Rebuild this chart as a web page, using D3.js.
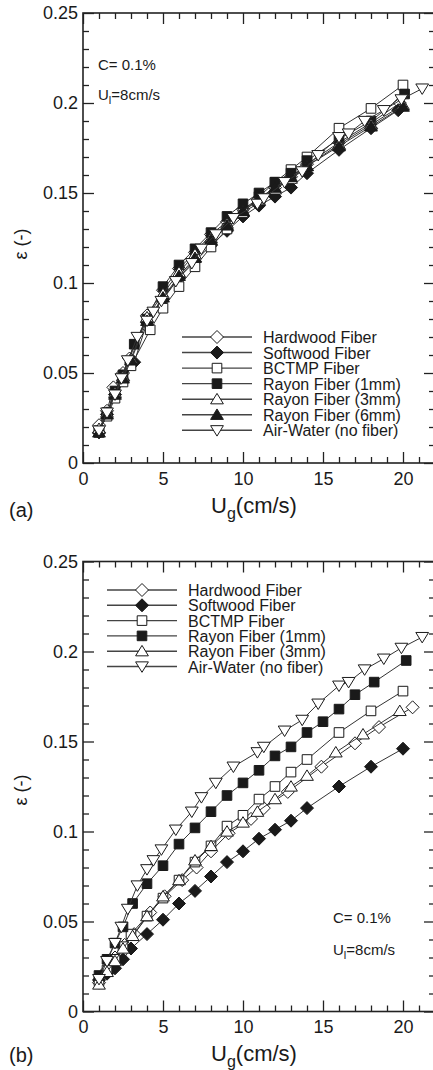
<!DOCTYPE html>
<html>
<head>
<meta charset="utf-8">
<script src="https://cdn.jsdelivr.net/npm/d3@7"></script>
<style>
  html, body { margin: 0; padding: 0; background: #fff; }
  svg { display: block; font-family: "Liberation Sans", Arial, Helvetica, sans-serif; }
</style>
</head>
<body>
<svg id="fig" width="433" height="1070"></svg>
<script>
// Gas holdup ε versus superficial gas velocity Ug, fiber suspensions at C = 0.1%, Ul = 8 cm/s

const seriesLabels = [
  "Hardwood Fiber", "Softwood Fiber", "BCTMP Fiber",
  "Rayon Fiber (1mm)", "Rayon Fiber (3mm)", "Rayon Fiber (6mm)", "Air-Water (no fiber)"
];
const seriesMarkers = ["diamondOpen", "diamondFilled", "squareOpen", "squareFilled", "triUpOpen", "triUpFilled", "triDownOpen"];

const xTicks = [0, 5, 10, 15, 20];
const yTicks = [0, 0.05, 0.1, 0.15, 0.2, 0.25];
const yTickLabels = ["0", "0.05", "0.1", "0.15", "0.2", "0.25"];

// Air-water reference run (same in both panels), [Ug, ε]
const airWater = [
  [1.0, 0.018], [1.5, 0.028], [2.0, 0.038], [2.4, 0.047], [2.8, 0.057], [3.4, 0.070],
  [4.0, 0.079], [4.4, 0.084], [4.9, 0.090], [5.8, 0.101], [6.8, 0.111], [7.4, 0.119],
  [8.3, 0.127], [9.4, 0.136], [10.9, 0.144], [11.3, 0.147], [12.6, 0.156], [13.7, 0.162],
  [14.7, 0.171], [16.0, 0.181], [16.6, 0.183], [17.6, 0.190], [18.8, 0.196], [19.9, 0.202], [21.2, 0.208]
];

// Panel (a)
const hardwoodA = [
  [1, 0.021], [1.5, 0.029], [1.9, 0.042], [2.5, 0.050], [2.9, 0.058], [4, 0.082], [5, 0.096],
  [6, 0.108], [7, 0.117], [8, 0.127], [9, 0.134], [10, 0.141], [11, 0.147], [12, 0.153],
  [13, 0.159], [14, 0.166], [16, 0.178], [18, 0.189], [19.8, 0.200]
];
const softwoodA = [
  [1, 0.017], [1.5, 0.027], [2, 0.038], [2.5, 0.046], [3.2, 0.056], [4, 0.078], [5, 0.091],
  [6, 0.103], [7, 0.112], [8, 0.121], [9, 0.129], [10, 0.137], [11, 0.143], [12, 0.148],
  [13, 0.153], [14, 0.161], [16, 0.174], [18, 0.186], [19.7, 0.196]
];
const bctmpA = [
  [1, 0.018], [1.5, 0.026], [2, 0.036], [2.5, 0.045], [3, 0.054], [4.2, 0.074], [5, 0.086],
  [6, 0.098], [7, 0.109], [8, 0.120], [9, 0.130], [10, 0.139], [11, 0.148], [12, 0.156],
  [13, 0.163], [14, 0.170], [16, 0.186], [18, 0.197], [20, 0.210]
];
const rayon1A = [
  [1, 0.017], [1.5, 0.028], [2, 0.040], [2.5, 0.049], [3.2, 0.066], [4, 0.080], [5, 0.098],
  [6, 0.110], [7, 0.119], [8, 0.128], [9, 0.137], [10, 0.144], [11, 0.150], [12, 0.156],
  [13, 0.161], [14, 0.168], [16, 0.180], [18, 0.190], [20.1, 0.205]
];
const rayon3A = [
  [1, 0.019], [1.5, 0.028], [2, 0.039], [2.5, 0.048], [3, 0.058], [4, 0.081], [5, 0.094],
  [6, 0.106], [7, 0.116], [8, 0.125], [9, 0.133], [10, 0.140], [11, 0.146], [12, 0.152],
  [13, 0.158], [14, 0.165], [16, 0.177], [18, 0.188], [20, 0.199]
];
const rayon6A = [
  [1, 0.017], [1.5, 0.027], [2, 0.038], [2.5, 0.047], [3, 0.057], [4, 0.079], [5, 0.092],
  [6, 0.104], [7, 0.114], [8, 0.124], [9, 0.132], [10, 0.140], [11, 0.147], [12, 0.153],
  [13, 0.159], [14, 0.165], [16, 0.176], [18, 0.187], [20, 0.198]
];

// Panel (b)
const hardwoodB = [
  [1, 0.016], [1.5, 0.023], [2, 0.030], [2.6, 0.037], [3.2, 0.043], [4.2, 0.055], [5.1, 0.064],
  [6.2, 0.073], [7.1, 0.080], [8, 0.089], [9.1, 0.099], [10.5, 0.107], [11.3, 0.113],
  [12.8, 0.122], [14.9, 0.136], [17, 0.149], [18.5, 0.158], [20.6, 0.169]
];
const softwoodB = [
  [1, 0.0175], [1.5, 0.021], [2, 0.024], [2.5, 0.029], [3, 0.035], [4, 0.043], [5, 0.051],
  [6, 0.060], [7, 0.067], [8, 0.075], [9, 0.083], [10, 0.089], [11, 0.096], [12, 0.101],
  [13, 0.106], [14, 0.113], [16, 0.125], [18, 0.136], [20, 0.146]
];
const bctmpB = [
  [1, 0.017], [1.5, 0.023], [2, 0.029], [2.5, 0.036], [3, 0.043], [4, 0.053], [5, 0.063],
  [6, 0.073], [7, 0.083], [8, 0.092], [9, 0.103], [10, 0.109], [11, 0.118], [12, 0.125],
  [13, 0.133], [14, 0.140], [16, 0.155], [18, 0.167], [20, 0.178]
];
const rayon1B = [
  [1, 0.020], [1.5, 0.029], [2, 0.038], [2.5, 0.047], [3.1, 0.060], [4, 0.071], [5, 0.081],
  [6, 0.093], [7, 0.102], [8, 0.111], [9, 0.120], [10, 0.127], [11, 0.134], [12, 0.142],
  [13, 0.147], [14, 0.155], [15, 0.161], [16, 0.168], [17, 0.176], [18.2, 0.183], [20.2, 0.195]
];
const rayon3B = [
  [1, 0.015], [1.5, 0.022], [2, 0.028], [2.5, 0.035], [3.1, 0.042], [4, 0.053], [5, 0.064],
  [6, 0.073], [7, 0.084], [8, 0.092], [9, 0.100], [10, 0.105], [10.9, 0.111], [12, 0.118],
  [13, 0.125], [14, 0.131], [15.8, 0.144], [17.5, 0.154], [19.8, 0.167]
];

const panels = [
  {
    tag: "(a)", top: 13, bottom: 463,
    series: [hardwoodA, softwoodA, bctmpA, rayon1A, rayon3A, rayon6A, airWater],
    which: [0, 1, 2, 3, 4, 5, 6],
    legend: { x0: 182, x1: 252, xm: 217, xt: 263, y0: 337, dy: 15.55 },
    note: { x: 98, y1: 70, y2: 100 },
    xTitleY: 513, tagY: 517, yTitleY: 244
  },
  {
    tag: "(b)", top: 561.5, bottom: 1011.5,
    series: [hardwoodB, softwoodB, bctmpB, rayon1B, rayon3B, airWater],
    which: [0, 1, 2, 3, 4, 6],
    legend: { x0: 107, x1: 177, xm: 142, xt: 188, y0: 590, dy: 15.3 },
    note: { x: 333, y1: 923, y2: 955 },
    xTitleY: 1061, tagY: 1062, yTitleY: 790
  }
];

const plotLeft = 83, plotRight = 435;
const ink = "#1a1a1a";

// Marker shapes; the size argument is the half-width in pixels
const shapes = {
  diamond: { draw(c, r) { c.moveTo(0, -r); c.lineTo(r, 0); c.lineTo(0, r); c.lineTo(-r, 0); c.closePath(); } },
  square:  { draw(c, r) { c.rect(-r, -r, 2 * r, 2 * r); } },
  triUp:   { draw(c, r) { c.moveTo(0, -r); c.lineTo(r * 1.1, r * 0.8); c.lineTo(-r * 1.1, r * 0.8); c.closePath(); } },
  triDown: { draw(c, r) { c.moveTo(0, r); c.lineTo(r * 1.1, -r * 0.8); c.lineTo(-r * 1.1, -r * 0.8); c.closePath(); } }
};
const markerStyle = {
  diamondOpen:   { shape: "diamond", r: 6.5, fill: "#fff" },
  diamondFilled: { shape: "diamond", r: 6.5, fill: ink },
  squareOpen:    { shape: "square",  r: 4.8, fill: "#fff" },
  squareFilled:  { shape: "square",  r: 4.8, fill: ink },
  triUpOpen:     { shape: "triUp",   r: 5.8, fill: "#fff" },
  triUpFilled:   { shape: "triUp",   r: 5.8, fill: ink },
  triDownOpen:   { shape: "triDown", r: 5.8, fill: "#fff" }
};
function markerPath(key) {
  const m = markerStyle[key];
  return d3.symbol().type(shapes[m.shape]).size(m.r)();
}

const svg = d3.select("#fig");

panels.forEach(p => {
  const x = d3.scaleLinear().domain([0, 22]).range([plotLeft, plotRight]);
  const y = d3.scaleLinear().domain([0, 0.25]).range([p.bottom, p.top]);
  const g = svg.append("g");

  // Data: connecting lines and markers
  const line = d3.line().x(d => x(d[0])).y(d => y(d[1]));
  p.series.forEach((data, i) => {
    const key = seriesMarkers[p.which[i]];
    const sg = g.append("g");
    sg.append("path").datum(data).attr("d", line)
      .attr("fill", "none").attr("stroke", "#333").attr("stroke-width", 1);
    sg.selectAll("path.pt").data(data).join("path").attr("class", "pt")
      .attr("d", markerPath(key))
      .attr("transform", d => `translate(${x(d[0])},${y(d[1])})`)
      .attr("fill", markerStyle[key].fill)
      .attr("stroke", ink).attr("stroke-width", 1);
  });

  // Axes: inward-pointing major and minor ticks on all four sides
  const minorX = d3.range(0, 23, 1).filter(v => v % 5 !== 0);
  const minorY = d3.range(0, 26, 1).map(v => v / 100).filter((v, k) => k % 5 !== 0);
  const tickStyle = sel => {
    sel.select(".domain").remove();
    sel.selectAll("line").attr("stroke", "#222").attr("stroke-width", 1.3);
    sel.selectAll("text").attr("font-size", 18).attr("fill", ink).attr("font-family", null);
  };

  g.append("g").attr("transform", `translate(0,${p.bottom})`)
    .call(d3.axisBottom(x).tickValues(xTicks).tickSize(-11).tickPadding(9).tickFormat(d3.format("d")))
    .call(tickStyle);
  g.append("g").attr("transform", `translate(0,${p.bottom})`)
    .call(d3.axisBottom(x).tickValues(minorX).tickSize(-6).tickFormat(""))
    .call(tickStyle);
  g.append("g").attr("transform", `translate(0,${p.top})`)
    .call(d3.axisTop(x).tickValues(xTicks).tickSize(-11).tickFormat(""))
    .call(tickStyle);
  g.append("g").attr("transform", `translate(0,${p.top})`)
    .call(d3.axisTop(x).tickValues(minorX).tickSize(-6).tickFormat(""))
    .call(tickStyle);

  g.append("g").attr("transform", `translate(${plotLeft},0)`)
    .call(d3.axisLeft(y).tickValues(yTicks).tickSize(-11).tickPadding(5)
      .tickFormat((d, i) => yTickLabels[i]))
    .call(tickStyle);
  g.append("g").attr("transform", `translate(${plotLeft},0)`)
    .call(d3.axisLeft(y).tickValues(minorY).tickSize(-6).tickFormat(""))
    .call(tickStyle);
  g.append("g").attr("transform", `translate(${plotRight},0)`)
    .call(d3.axisRight(y).tickValues(yTicks).tickSize(-11).tickFormat(""))
    .call(tickStyle);
  g.append("g").attr("transform", `translate(${plotRight},0)`)
    .call(d3.axisRight(y).tickValues(minorY).tickSize(-6).tickFormat(""))
    .call(tickStyle);

  // Plot frame
  g.append("rect")
    .attr("x", plotLeft).attr("y", p.top)
    .attr("width", plotRight - plotLeft).attr("height", p.bottom - p.top)
    .attr("fill", "none").attr("stroke", "#222").attr("stroke-width", 1.6);

  // Legend
  const L = p.legend;
  p.which.forEach((s, i) => {
    const ly = L.y0 + i * L.dy;
    g.append("line").attr("x1", L.x0).attr("x2", L.x1).attr("y1", ly).attr("y2", ly)
      .attr("stroke", "#444").attr("stroke-width", 1.4);
    const key = seriesMarkers[s];
    g.append("path").attr("d", markerPath(key))
      .attr("transform", `translate(${L.xm},${ly})`)
      .attr("fill", markerStyle[key].fill).attr("stroke", ink).attr("stroke-width", 1);
    g.append("text").attr("x", L.xt).attr("y", ly + 6)
      .attr("font-size", 16).attr("fill", ink).text(seriesLabels[s]);
  });

  // Operating conditions
  const N = p.note;
  g.append("text").attr("x", N.x).attr("y", N.y1).attr("font-size", 15).attr("fill", ink).text("C= 0.1%");
  const ul = g.append("text").attr("x", N.x).attr("y", N.y2).attr("font-size", 15).attr("fill", ink);
  ul.append("tspan").text("U");
  ul.append("tspan").attr("font-size", 11).attr("dy", 4).text("l");
  ul.append("tspan").attr("dy", -4).text("=8cm/s");

  // Axis titles and panel tag
  const xt = g.append("text").attr("x", 254).attr("y", p.xTitleY)
    .attr("text-anchor", "middle").attr("font-size", 22).attr("fill", ink);
  xt.append("tspan").text("U");
  xt.append("tspan").attr("font-size", 16).attr("dy", 6).text("g");
  xt.append("tspan").attr("dy", -6).text("(cm/s)");

  g.append("text")
    .attr("transform", `translate(27,${p.yTitleY}) rotate(-90)`)
    .attr("text-anchor", "middle").attr("font-size", 18).attr("fill", ink)
    .text("ε (-)");

  g.append("text").attr("x", 9).attr("y", p.tagY).attr("font-size", 20).attr("fill", ink).text(p.tag);
});
</script>
</body>
</html>
